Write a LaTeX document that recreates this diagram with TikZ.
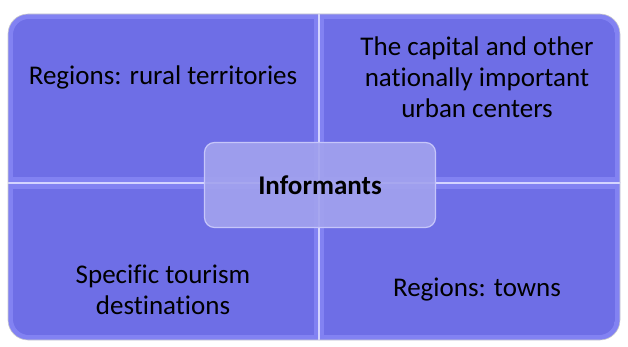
\documentclass[tikz,border=0pt]{standalone}
\usepackage{fontspec}
\setmainfont{Carlito}[Ligatures=NoCommon]
\definecolor{quadfill}{HTML}{6E6EE6}
\definecolor{quadrim}{HTML}{8282F2}
\definecolor{gapline}{HTML}{D4D4FF}
\definecolor{hubfill}{HTML}{A3A3EE}
\definecolor{hubrim}{HTML}{C6C6FA}
\newcommand{\midx}{319}
\newcommand{\midy}{183}

\begin{document}
\begin{tikzpicture}[x=1pt,y=-1pt,
    label/.style={align=center, text=black, font=\fontsize{27}{31}\selectfont},
    hub/.style={draw=hubrim, line width=1.2pt, fill=hubfill, fill opacity=0.9, text opacity=1,
        rounded corners=10pt, minimum width=231pt, minimum height=85pt, font=\bfseries\fontsize{27}{31}\selectfont}]
    \useasboundingbox (0,0) rectangle (628,347);
    % Quadrants
    \begin{scope}
        \clip (8,14) rectangle (\midx,\midy);
        \fill[quadrim, rounded corners=20pt] (8,14) rectangle (420,260);
        \clip[rounded corners=16pt] (13,19) rectangle (420,260);
        \fill[quadfill] (13,19) rectangle (\midx-5,\midy-6);
    \end{scope}
    \begin{scope}
        \clip (\midx,14) rectangle (620,\midy);
        \fill[quadrim, rounded corners=20pt] (200,14) rectangle (620,260);
        \clip[rounded corners=16pt] (200,19) rectangle (615,260);
        \fill[quadfill] (\midx+5,19) rectangle (615,\midy-6);
    \end{scope}
    \begin{scope}
        \clip (8,\midy) rectangle (\midx,340);
        \fill[quadrim, rounded corners=20pt] (8,100) rectangle (420,340);
        \clip[rounded corners=16pt] (13,100) rectangle (420,335);
        \fill[quadfill] (13,\midy+6) rectangle (\midx-5,335);
    \end{scope}
    \begin{scope}
        \clip (\midx,\midy) rectangle (620,340);
        \fill[quadrim, rounded corners=20pt] (200,100) rectangle (620,340);
        \clip[rounded corners=16pt] (200,100) rectangle (615,335);
        \fill[quadfill] (\midx+5,\midy+6) rectangle (615,335);
    \end{scope}
    % Dividers
    \draw[gapline, line width=2pt] (\midx,14) -- (\midx,340);
    \draw[gapline, line width=2pt] (8,\midy) -- (620,\midy);
    \draw[gray!40, line width=0.6pt, rounded corners=20pt] (8,14) rectangle (620,340);

    \node[label] (rural) at (163,77) {Regions: rural territories};
    \node[label] (capital) at (477,77) {The capital and other\\nationally important\\urban centers};
    \node[label] (tourism) at (163,290) {Specific tourism\\destinations};
    \node[label] (towns) at (477,290) {Regions: towns};

    \node[hub] (informants) at (320,185) {Informants};
\end{tikzpicture}
\end{document}
